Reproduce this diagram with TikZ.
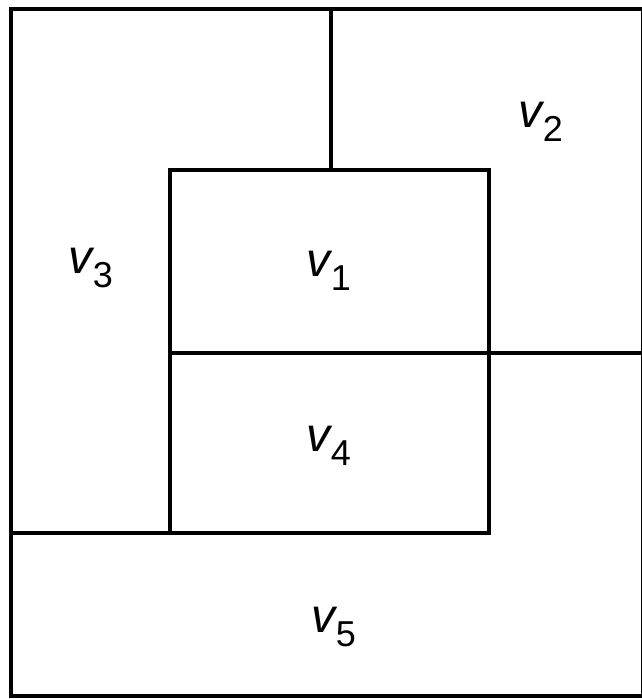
\documentclass[tikz,border=0pt]{standalone}
\usepackage{fontspec}
\setmainfont{Liberation Sans}
\newcommand{\vlab}[1]{{\fontsize{48}{48}\selectfont\itshape v}\kern0pt\raisebox{-14pt}{\fontsize{36}{36}\selectfont #1}}
\begin{document}
\begin{tikzpicture}[x=1pt,y=-1pt,
  wall/.style={line width=4.8pt,line cap=rect,black},
  lab/.style={inner sep=0pt,anchor=center}]
\useasboundingbox (0,0) rectangle (642,699);
\fill[white] (0,0) rectangle (642,699);
\draw[wall] (11,9) rectangle (643,696);
\draw[wall] (331,9) -- (331,170);
\draw[wall] (170,170) rectangle (489,533);
\draw[wall] (170,353) -- (643,353);
\draw[wall] (11,533) -- (170,533);
\node[lab] (v2) at (541,122) {\vlab{2}};
\node[lab] (v3) at (91,268) {\vlab{3}};
\node[lab] (v1) at (329,271) {\vlab{1}};
\node[lab] (v4) at (329,446) {\vlab{4}};
\node[lab] (v5) at (334,627) {\vlab{5}};
\end{tikzpicture}
\end{document}
